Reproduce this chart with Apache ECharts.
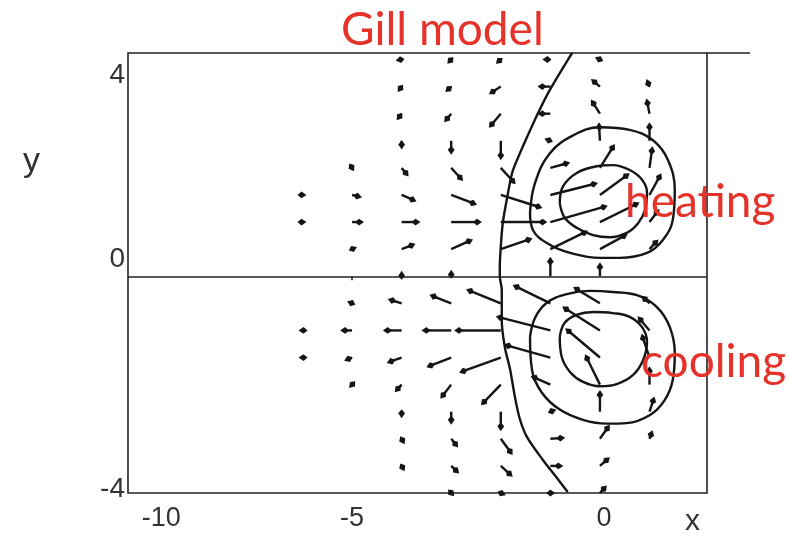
<!DOCTYPE html>
<html><head><meta charset="utf-8">
<script src="https://cdn.jsdelivr.net/npm/echarts@6/dist/echarts.min.js"></script>
<style>html,body{margin:0;padding:0;background:#fff}#c{width:789px;height:538px}</style>
</head><body><div id="c"></div>
<script>
// grid of arrow positions
const xCols = [-6, -5, -4, -3, -2, -1, 0, 1];
const yRows = [4, 3.5, 3, 2.5, 2, 1.5, 1, 0.5, 0, -0.5, -1, -1.5, -2, -2.5, -3, -3.5, -4];
// wind components (u eastward, v northward), one row per yRows entry
const U = [
  [null, null, -6, -4, -5, -8, -5, null],
  [null, null, -4, -6, -12, -13, -9, -3],
  [null, null, -5, -7, -12, -13, -9, -3],
  [null, null, 0, 0, 0, -6, -1, 0],
  [null, 2, 7, 12, 15, 20, 15, 3],
  [4, 10, 15, 26, 42, 48, 30, 12],
  [4, 12, 19, 31, 47, 58, 40, 10],
  [null, 5, 14, 22, 32, 38, 28, 9],
  [null, null, 0, 0, null, 0, 0, null],
  [null, -5, -14, -22, -35, -38, -27, -8],
  [-4, -12, -19, -30, -47, -55, -38, -12],
  [-4, -8, -15, -25, -42, -47, -35, -8],
  [null, -3, -7, -11, -20, -20, -15, 0],
  [null, null, 0, 0, 0, 6, 0, 5],
  [null, null, 3, 7, 12, 15, 10, 3],
  [null, null, 3, 8, 12, 13, 10, null],
  [null, null, null, 3, 5, 5, 7, null]
];
const V = [
  [null, null, -1, -4, -4, 0, 2, null],
  [null, null, -5, -5, -7, 0, 7, 7],
  [null, null, -6, -8, -13, 0, 13, 14],
  [null, null, -8, -13, -18, 2, 17, 17],
  [null, -3, -8, -12, -15, 5, 22, 20],
  [0, -2, -6, -9, -12, 11, 20, 20],
  [0, 0, 0, 0, 0, 15, 18, 12],
  [null, 2, 5, 9, 10, 17, 14, 9],
  [null, null, 5, 6, null, 18, 13, null],
  [null, 2, 4, 8, 13, 17, 15, 7],
  [0, 0, 0, 0, 0, 13, 22, 13],
  [0, -3, -5, -9, -14, 12, 27, 22],
  [null, -3, -7, -13, -19, 8, 28, 17],
  [null, null, -6, -12, -18, 2, 20, 14],
  [null, null, -5, -8, -15, 1, 13, 8],
  [null, null, -5, -7, -10, 0, 8, null],
  [null, null, null, -3, -2, 0, 7, null]
];
// contours [x, y]
const heatOuter = [[-1.41,1.17],[-1.31,1.72],[-1.01,2.27],[-0.54,2.60],[0,2.75],[0.60,2.70],[1.07,2.51],[1.37,2.15],[1.51,1.59],[1.47,1.04],[1.27,0.67],[0.95,0.43],[0.40,0.34],[0,0.34],[-0.60,0.43],[-1.01,0.58],[-1.35,0.85],[-1.41,1.17]];
const heatInner = [[-0.81,1.35],[-0.75,1.65],[-0.46,1.91],[-0.06,2.03],[0.26,2.05],[0.60,1.96],[0.85,1.78],[0.95,1.54],[0.91,1.22],[0.77,0.98],[0.54,0.80],[0.20,0.72],[-0.14,0.76],[-0.46,0.89],[-0.71,1.08],[-0.81,1.35]];
const coolOuter = [[-1.41,-1.12],[-1.31,-0.77],[-1.07,-0.49],[-0.67,-0.33],[-0.20,-0.27],[0.26,-0.29],[0.75,-0.35],[1.15,-0.57],[1.41,-0.94],[1.51,-1.42],[1.47,-1.91],[1.31,-2.28],[1.01,-2.56],[0.54,-2.71],[0.14,-2.72],[-0.34,-2.65],[-0.81,-2.46],[-1.17,-2.15],[-1.37,-1.73],[-1.41,-1.12]];
const coolInner = [[-0.81,-1.12],[-0.71,-0.86],[-0.46,-0.71],[-0.14,-0.66],[0.26,-0.68],[0.60,-0.75],[0.85,-0.94],[0.95,-1.21],[0.87,-1.55],[0.67,-1.82],[0.34,-1.99],[0,-2.03],[-0.34,-1.95],[-0.60,-1.77],[-0.77,-1.49],[-0.81,-1.12]];
const boundary = [[-0.56,4.12],[-0.65,3.99],[-1.01,3.44],[-1.25,3.01],[-1.47,2.57],[-1.67,2.15],[-1.77,1.91],[-1.88,1.41],[-1.96,0.98],[-2.00,0.54],[-2.02,0.17],[-2.02,0],[-1.98,-0.25],[-1.98,-0.81],[-1.92,-1.30],[-1.81,-1.73],[-1.72,-2.20],[-1.62,-2.62],[-1.47,-2.97],[-1.15,-3.39],[-0.87,-3.72],[-0.65,-3.98]];
// tick labels
const xTickText = ['-10', '-5', '0'];
const xTickPos = [-8.85, -5, 0.08];
const yTickText = ['4', '0', '-4'];
const yTickPos = [3.71, 0.32, -3.94];

const S = 0.02;
const arrowData = [];
yRows.forEach((y, i) => xCols.forEach((x, j) => {
  if (U[i][j] !== null) arrowData.push([x, y, U[i][j], V[i][j]]);
}));
function nearestText(vals, texts, v) {
  let k = 0, d = Infinity;
  vals.forEach((p, i) => { if (Math.abs(p - v) < d) { d = Math.abs(p - v); k = i; } });
  return texts[k];
}
const ink = '#151515';
function renderArrow(params, api) {
  const x = api.value(0), y = api.value(1), u = api.value(2), v = api.value(3);
  const p0 = api.coord([x, y]);
  const p1 = api.coord([x + u * S, y + v * S]);
  const dx = p1[0] - p0[0], dy = p1[1] - p0[1];
  const L = Math.hypot(dx, dy) || 1;
  const ux = dx / L, uy = dy / L;
  const hl = 9, hm = 5, hw = 3.4;
  const mx = p1[0] - ux * hm, my = p1[1] - uy * hm;
  const bx = p1[0] - ux * hl, by = p1[1] - uy * hl;
  const ch = [];
  if (L > hm) ch.push({type: 'line', shape: {x1: p0[0], y1: p0[1], x2: mx, y2: my}, style: {stroke: ink, lineWidth: 2.4}});
  ch.push({type: 'polygon', shape: {points: [[p1[0], p1[1]], [mx - uy * hw, my + ux * hw], [bx, by], [mx + uy * hw, my - ux * hw]]}, style: {fill: ink}});
  return {type: 'group', children: ch};
}
const G = {left: 128, right: 82, top: 53, bottom: 45};
const lineSer = (d) => ({type: 'line', data: d, smooth: 0.4, showSymbol: false, silent: true,
  lineStyle: {color: ink, width: 2.4}, z: 3});
const red = '#e5332a';
const chart = echarts.init(document.getElementById('c'));
chart.setOption({
  animation: false,
  backgroundColor: '#fff',
  title: [
    {text: 'Gill model', left: 336, top: 2, textStyle: {fontFamily: 'Lato', fontSize: 46, fontWeight: 'normal', color: red}},
    {text: 'heating', left: 620, top: 174, textStyle: {fontFamily: 'Lato', fontSize: 46, fontWeight: 'normal', color: red}},
    {text: 'cooling', left: 636, top: 334, textStyle: {fontFamily: 'Lato', fontSize: 46, fontWeight: 'normal', color: red}},
    {text: 'y', left: 18, top: 140, textStyle: {fontFamily: 'Liberation Sans', fontSize: 34, fontWeight: 'normal', color: '#333'}},
    {text: 'x', left: 680, top: 502, textStyle: {fontFamily: 'Liberation Sans', fontSize: 30, fontWeight: 'normal', color: '#333'}}
  ],
  grid: {left: G.left, right: G.right, top: G.top, bottom: G.bottom, show: true, borderColor: '#222', borderWidth: 1.6},
  graphic: [{type: 'line', shape: {x1: 789 - G.right, y1: G.top, x2: 750, y2: G.top}, style: {stroke: '#222', lineWidth: 1.6}}],
  xAxis: {type: 'value', min: -9.52, max: 2.16,
    axisLine: {show: false}, splitLine: {show: false},
    axisTick: {show: true, customValues: [-5], length: 4, lineStyle: {color: '#222', width: 1.5}},
    axisLabel: {customValues: xTickPos, formatter: (v) => nearestText(xTickPos, xTickText, v),
      fontFamily: 'Liberation Sans', fontSize: 27, color: '#333', margin: 12}},
  yAxis: {type: 'value', min: -4, max: 4.12,
    axisLine: {show: false}, splitLine: {show: false}, axisTick: {show: false},
    axisLabel: {customValues: yTickPos, formatter: (v) => nearestText(yTickPos, yTickText, v),
      fontFamily: 'Liberation Sans', fontSize: 28, color: '#333', margin: 3}},
  series: [
    {type: 'custom', data: arrowData, renderItem: renderArrow, encode: {x: 0, y: 1}, silent: true, z: 4, clip: false},
    Object.assign(lineSer(heatOuter), {markLine: {silent: true, symbol: ['none', 'none'], label: {show: false},
      lineStyle: {type: 'solid', color: '#222', width: 1.6}, data: [{yAxis: 0}]}}),
    lineSer(heatInner), lineSer(coolOuter), lineSer(coolInner),
    Object.assign(lineSer(boundary), {smooth: 0.3})
  ]
});
</script></body></html>
